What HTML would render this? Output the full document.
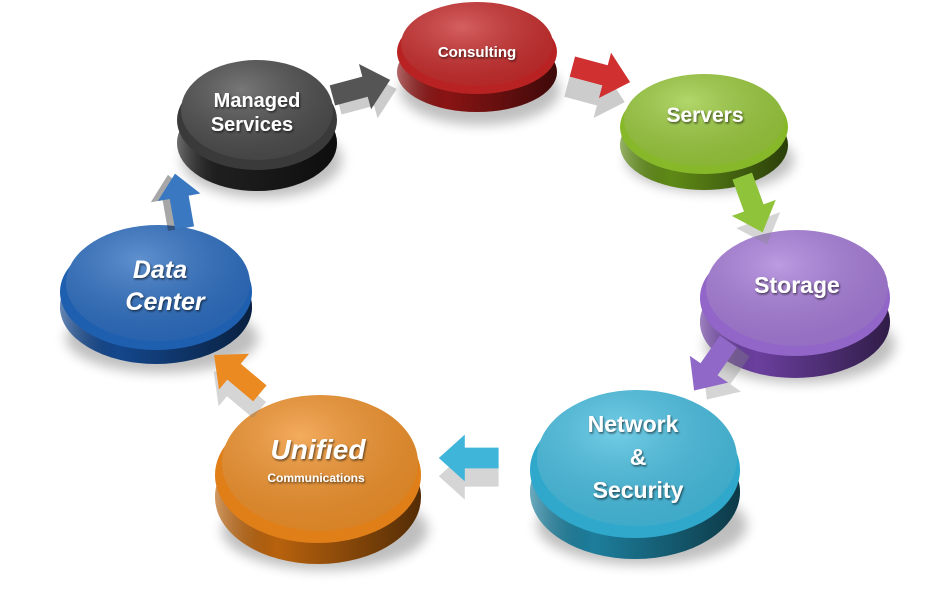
<!DOCTYPE html>
<html><head><meta charset="utf-8"><style>
html,body{margin:0;padding:0;background:#fff;width:927px;height:606px;overflow:hidden}
text{font-family:"Liberation Sans",sans-serif;font-weight:bold;fill:#fff}
</style></head><body>
<svg width="927" height="606" viewBox="0 0 927 606" xmlns="http://www.w3.org/2000/svg">
<defs>
<filter id="sh" x="-20%" y="-20%" width="140%" height="160%"><feGaussianBlur stdDeviation="6"/></filter>
<filter id="ts"><feDropShadow dx="1" dy="1.5" stdDeviation="1" flood-color="#000" flood-opacity="0.6"/></filter>
<linearGradient id="base" x1="0" x2="1" y1="0" y2="0"><stop offset="0" stop-color="#fff" stop-opacity="0.35"/><stop offset="0.3" stop-color="#000" stop-opacity="0"/><stop offset="1" stop-color="#000" stop-opacity="0.55"/></linearGradient>
<radialGradient id="face" cx="0.4" cy="0.3" r="0.8"><stop offset="0" stop-color="#fff" stop-opacity="0.25"/><stop offset="1" stop-color="#000" stop-opacity="0.1"/></radialGradient>
<path id="ar" d="M-22,-8 L4,-8 L4,-18 L24,0 L4,18 L4,8 L-22,8 Z"/>
</defs>

<g>
<ellipse cx="480" cy="90" rx="80" ry="35" fill="#000" opacity="0.25" filter="url(#sh)"/>
<ellipse cx="477" cy="72" rx="80" ry="40" fill="#8a1414"/><ellipse cx="477" cy="72" rx="80" ry="40" fill="url(#base)"/>
<ellipse cx="477" cy="52" rx="80" ry="42" fill="#b82222"/>
<ellipse cx="477" cy="44" rx="76" ry="42" fill="#c72a2a"/><ellipse cx="477" cy="44" rx="76" ry="42" fill="url(#face)"/>
<text x="477" y="57" font-size="15" text-anchor="middle" filter="url(#ts)">Consulting</text>
</g>
<g>
<ellipse cx="262" cy="160" rx="80" ry="38" fill="#000" opacity="0.25" filter="url(#sh)"/>
<ellipse cx="257" cy="143" rx="80" ry="48" fill="#1e1e1e"/><ellipse cx="257" cy="143" rx="80" ry="48" fill="url(#base)"/>
<ellipse cx="257" cy="120" rx="80" ry="50" fill="#3a3a3a"/>
<ellipse cx="257" cy="110" rx="76" ry="50" fill="#4a4a4a"/><ellipse cx="257" cy="110" rx="76" ry="50" fill="url(#face)"/>
<text x="257" y="107" font-size="20" text-anchor="middle" filter="url(#ts)">Managed</text>
<text x="252" y="131" font-size="20" text-anchor="middle" filter="url(#ts)">Services</text>
</g>
<g>
<ellipse cx="710" cy="160" rx="84" ry="32" fill="#000" opacity="0.25" filter="url(#sh)"/>
<ellipse cx="704" cy="145" rx="84" ry="45" fill="#5f8a16"/><ellipse cx="704" cy="145" rx="84" ry="45" fill="url(#base)"/>
<ellipse cx="704" cy="127" rx="84" ry="47" fill="#86b82a"/>
<ellipse cx="704" cy="120" rx="80" ry="46" fill="#98c93a"/><ellipse cx="704" cy="120" rx="80" ry="46" fill="url(#face)"/>
<text x="705" y="122" font-size="21" text-anchor="middle" filter="url(#ts)">Servers</text>
</g>
<g>
<ellipse cx="800" cy="345" rx="95" ry="38" fill="#000" opacity="0.25" filter="url(#sh)"/>
<ellipse cx="795" cy="322" rx="95" ry="56" fill="#6a3f9e"/><ellipse cx="795" cy="322" rx="95" ry="56" fill="url(#base)"/>
<ellipse cx="795" cy="298" rx="95" ry="58" fill="#9265c8"/>
<ellipse cx="797" cy="288" rx="91" ry="58" fill="#a57ad8"/><ellipse cx="797" cy="288" rx="91" ry="58" fill="url(#face)"/>
<text x="797" y="293" font-size="23" text-anchor="middle" filter="url(#ts)">Storage</text>
</g>
<g>
<ellipse cx="642" cy="525" rx="105" ry="40" fill="#000" opacity="0.25" filter="url(#sh)"/>
<ellipse cx="635" cy="492" rx="105" ry="67" fill="#1d7e9c"/><ellipse cx="635" cy="492" rx="105" ry="67" fill="url(#base)"/>
<ellipse cx="635" cy="470" rx="105" ry="68" fill="#2fa8cc"/>
<ellipse cx="637" cy="458" rx="100" ry="68" fill="#44bde0"/><ellipse cx="637" cy="458" rx="100" ry="68" fill="url(#face)"/>
<text x="633" y="432" font-size="23" text-anchor="middle" filter="url(#ts)">Network</text>
<text x="638" y="465" font-size="23" text-anchor="middle" filter="url(#ts)">&amp;</text>
<text x="638" y="498" font-size="23" text-anchor="middle" filter="url(#ts)">Security</text>
</g>
<g>
<ellipse cx="325" cy="530" rx="103" ry="40" fill="#000" opacity="0.25" filter="url(#sh)"/>
<ellipse cx="318" cy="497" rx="103" ry="67" fill="#b8620d"/><ellipse cx="318" cy="497" rx="103" ry="67" fill="url(#base)"/>
<ellipse cx="318" cy="475" rx="103" ry="68" fill="#e07e18"/>
<ellipse cx="320" cy="463" rx="98" ry="68" fill="#f09028"/><ellipse cx="320" cy="463" rx="98" ry="68" fill="url(#face)"/>
<text x="318" y="459" font-size="28" font-style="italic" text-anchor="middle" filter="url(#ts)">Unified</text>
<text x="316" y="482" font-size="12" text-anchor="middle" filter="url(#ts)">Communications</text>
</g>
<g>
<ellipse cx="162" cy="338" rx="96" ry="35" fill="#000" opacity="0.25" filter="url(#sh)"/>
<ellipse cx="156" cy="307" rx="96" ry="57" fill="#14478c"/><ellipse cx="156" cy="307" rx="96" ry="57" fill="url(#base)"/>
<ellipse cx="156" cy="292" rx="96" ry="58" fill="#1f5fb0"/>
<ellipse cx="158" cy="283" rx="92" ry="58" fill="#2a6cc0"/><ellipse cx="158" cy="283" rx="92" ry="58" fill="url(#face)"/>
<text x="160" y="278" font-size="25" font-style="italic" text-anchor="middle" filter="url(#ts)">Data</text>
<text x="165" y="310" font-size="25" font-style="italic" text-anchor="middle" filter="url(#ts)">Center</text>
</g>

<g transform="translate(360,88) rotate(-15) scale(1.3)"><use href="#ar" fill="#000" opacity="0.2" transform="translate(3,8)"/><use href="#ar" fill="#555"/></g>
<g transform="translate(600,74) rotate(15) scale(1.3)"><use href="#ar" fill="#999" opacity="0.5" transform="translate(0,16)"/><use href="#ar" fill="#d03030"/></g>
<g transform="translate(752,203) rotate(70) scale(1.3)"><use href="#ar" fill="#888" opacity="0.35" transform="translate(10,0)"/><use href="#ar" fill="#8fc43a"/></g>
<g transform="translate(712,365) rotate(125) scale(1.3)"><use href="#ar" fill="#888" opacity="0.35" transform="translate(0,-12)"/><use href="#ar" fill="#9068c8"/></g>
<g transform="translate(470,458) rotate(180) scale(1.3)"><use href="#ar" fill="#888" opacity="0.35" transform="translate(0,-14)"/><use href="#ar" fill="#3fb5da"/></g>
<g transform="translate(238,375) rotate(-140) scale(1.3)"><use href="#ar" fill="#888" opacity="0.35" transform="translate(-8,-10)"/><use href="#ar" fill="#ec8a22"/></g>
<g transform="translate(180,202) rotate(-100) scale(1.2)"><use href="#ar" fill="#222" opacity="0.4" transform="translate(0,-6)"/><use href="#ar" fill="#3a78c2"/></g>
</svg>
</body></html>
